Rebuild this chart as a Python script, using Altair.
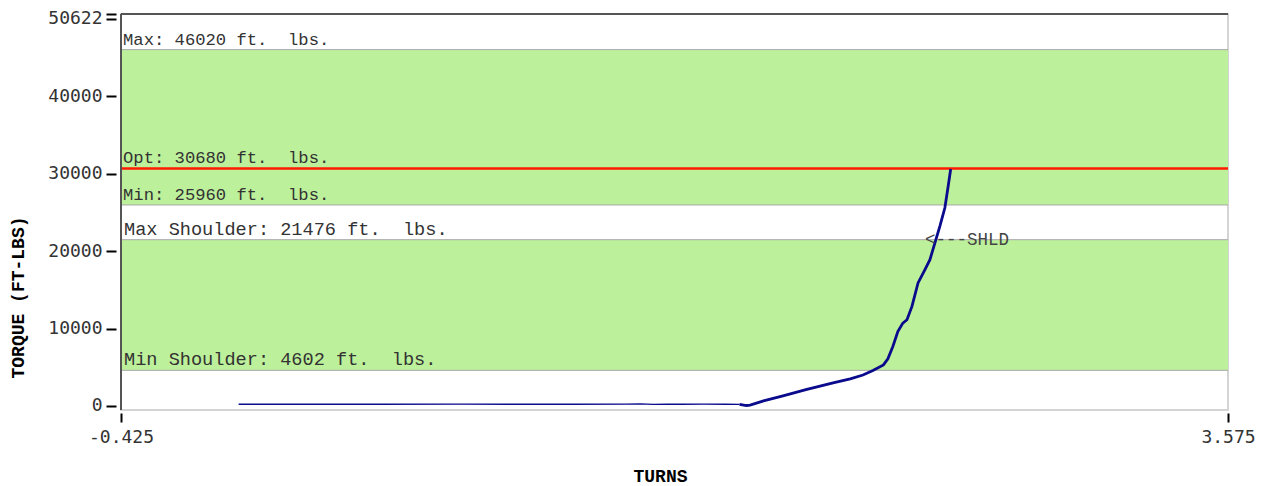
import altair as alt
import pandas as pd

W, H = 1107, 396

# curve data (turns, torque)
turns = [0.0, 0.3, 0.5, 0.807, 1.0, 1.2, 1.40, 1.45, 1.50, 1.55, 1.60, 1.68, 1.76, 1.81,
         1.81, 1.835, 1.848, 1.90, 1.967, 2.05, 2.148, 2.21, 2.256, 2.292, 2.33, 2.346, 2.364,
         2.382, 2.40, 2.415, 2.433, 2.455, 2.48, 2.498, 2.516, 2.534, 2.552, 2.564, 2.573]
torque = [220, 220, 220, 240, 220, 220, 230, 260, 210, 250, 220, 230, 220, 200,
          200, 60, 120, 700, 1300, 2100, 2970, 3500, 4000, 4570, 5300, 6080, 7680,
          9620, 10700, 11140, 12860, 15890, 17600, 18900, 21070, 23220, 25600, 28400, 30600]
segment = ["flat"] * 14 + ["rise"] * 25

band_lo = [4602, 25960]
band_hi = [21476, 46020]
limit_values = [46020, 30680, 25960]
limit_labels = ["Max: 46020 ft.\u00a0 lbs.", "Opt: 30680 ft.\u00a0 lbs.", "Min: 25960 ft.\u00a0 lbs."]
shoulder_values = [21476, 4602]
shoulder_labels = ["Max Shoulder: 21476 ft.\u00a0 lbs.", "Min Shoulder: 4602 ft.\u00a0 lbs."]
border_values = [4602, 21476, 25960, 46020]
opt_value = 30680
shld_turns = [2.48]
shld_torque = [21476]
shld_text = ["<---SHLD"]

x_ticks = [-0.425, 3.575]
y_ticks = [0, 10000, 20000, 30000, 40000, 50000, 50622]

curve = pd.DataFrame({"turns": turns, "torque": torque, "seg": segment})
bands = pd.DataFrame({"lo": band_lo, "hi": band_hi})
limits = pd.DataFrame({"v": limit_values, "label": limit_labels})
shoulders = pd.DataFrame({"v": shoulder_values, "label": shoulder_labels})
border_vals = pd.DataFrame({"v": border_values})
opt = pd.DataFrame({"v": [opt_value]})
shld = pd.DataFrame({"turns": shld_turns, "torque": shld_torque, "t": shld_text})

xs = alt.Scale(domain=[-0.425, 3.575], nice=False, zero=False)
ys = alt.Scale(domain=[-520, 50622], nice=False, zero=False)

y_axis = alt.Axis(values=y_ticks, format="d",
                  labelExpr="datum.value == 50000 ? '' : datum.label",
                  domain=False, grid=False, offset=5, tickSize=10, tickWidth=2,
                  tickColor="black", labelFont="DejaVu Sans Mono", labelFontSize=18,
                  labelColor="#333", labelPadding=4,
                  labelOffset={"condition": {"test": "datum.value == 50622", "value": 4}, "value": 0},
                  title="TORQUE (FT-LBS)", titleFont="Liberation Mono",
                  titleFontWeight="bold", titleFontSize=18, titleColor="black",
                  titleAngle=-90, titleAlign="center", titleBaseline="middle",
                  titleX=-98, titleY=283)
x_axis = alt.Axis(values=x_ticks, format=".3f",
                  labelExpr="replace(datum.label, '\u2212', '-')",
                  domain=False, grid=False, offset=3, tickSize=9, tickWidth=2,
                  tickColor="black", labelFont="DejaVu Sans Mono", labelFontSize=18,
                  labelColor="#333", labelPadding=6, labelFlush=False,
                  title="TURNS", titleFont="Liberation Mono", titleFontWeight="bold",
                  titleFontSize=18, titleColor="black", titleBaseline="middle",
                  titleX=539, titleY=63)

band_layer = alt.Chart(bands).mark_rect(color="#BDF09B").encode(
    x=alt.value(0), x2=alt.value(W),
    y=alt.Y("lo:Q", scale=ys, axis=y_axis), y2="hi:Q")

border_layer = alt.Chart(border_vals).mark_rule(color="#A8A8A8", strokeWidth=1).encode(
    y=alt.Y("v:Q", scale=ys, axis=y_axis))

opt_layer = alt.Chart(opt).mark_rule(color="#FF1A00", strokeWidth=2.5).encode(
    y=alt.Y("v:Q", scale=ys, axis=y_axis))

line_layer = alt.Chart(curve).mark_line(color="#0A0A8C").encode(
    x=alt.X("turns:Q", scale=xs, axis=x_axis),
    y=alt.Y("torque:Q", scale=ys, axis=y_axis),
    detail="seg:N",
    strokeWidth=alt.StrokeWidth("seg:N", scale=alt.Scale(domain=["flat", "rise"], range=[1.3, 2.8]),
                                legend=None))

label_layer = alt.Chart(limits).mark_text(
    align="left", baseline="alphabetic", dy=-5, font="Liberation Mono",
    fontSize=17.2, color="#333").encode(
    x=alt.value(2), y=alt.Y("v:Q", scale=ys, axis=y_axis), text="label:N")

shoulder_layer = alt.Chart(shoulders).mark_text(
    align="left", baseline="alphabetic", dy=-5, font="Liberation Mono",
    fontSize=18.6, color="#333").encode(
    x=alt.value(3), y=alt.Y("v:Q", scale=ys, axis=y_axis), text="label:N")

shld_layer = alt.Chart(shld).mark_text(
    align="left", baseline="middle", font="Liberation Mono", fontSize=17.5,
    color="#444").encode(
    x=alt.X("turns:Q", scale=xs, axis=x_axis),
    y=alt.Y("torque:Q", scale=ys, axis=y_axis), text="t:N")

frame_top = alt.Chart(opt).mark_rule(color="#555", strokeWidth=2).encode(
    x=alt.value(0), x2=alt.value(W), y=alt.value(0))
frame_left = alt.Chart(opt).mark_rule(color="#555", strokeWidth=2).encode(
    x=alt.value(0), y=alt.value(0), y2=alt.value(H))

chart = alt.layer(band_layer, border_layer, opt_layer, line_layer, label_layer,
                  shoulder_layer, shld_layer, frame_top, frame_left).properties(
    width=W, height=H,
    autosize=alt.AutoSizeParams(type="none"),
    padding={"left": 113, "top": 6, "right": 30, "bottom": 76},
).configure_view(stroke="#D4D4D4", strokeWidth=2)

chart.save("out.html", embed_options={"renderer": "svg", "actions": False})
